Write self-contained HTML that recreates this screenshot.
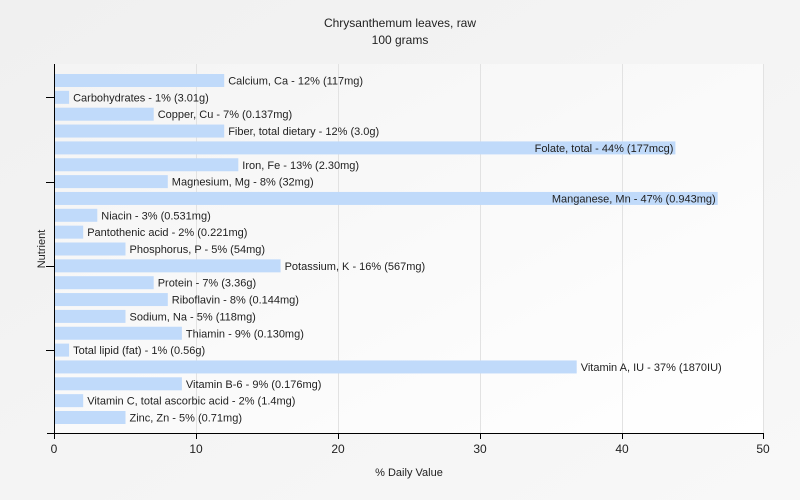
<!DOCTYPE html>
<html><head><meta charset="utf-8"><style>
body{margin:0;background:#f0f0f0;}
svg{display:block;font-family:"Liberation Sans",sans-serif;}
</style></head><body>
<svg width="800" height="500" xmlns="http://www.w3.org/2000/svg">
<defs><linearGradient id="bg" x1="0" y1="0" x2="1" y2="1"><stop offset="0" stop-color="#f0f0f0"/><stop offset="1" stop-color="#f8f8f8"/></linearGradient>
<linearGradient id="pb" x1="0" y1="0" x2="1" y2="1"><stop offset="0" stop-color="#f4f4f4"/><stop offset="1" stop-color="#ffffff"/></linearGradient></defs>
<rect width="800" height="500" fill="url(#bg)"/>
<rect x="54" y="64" width="710" height="369" fill="url(#pb)"/>
<g stroke="#e2e2e2" stroke-width="1">
<line x1="196.5" y1="64" x2="196.5" y2="433"/><line x1="338.5" y1="64" x2="338.5" y2="433"/><line x1="480.5" y1="64" x2="480.5" y2="433"/><line x1="622.5" y1="64" x2="622.5" y2="433"/><line x1="763.5" y1="64" x2="763.5" y2="433"/>
</g>
<text x="400" y="27" text-anchor="middle" font-size="12" fill="#222">Chrysanthemum leaves, raw</text>
<text x="400" y="44" text-anchor="middle" font-size="12" fill="#222">100 grams</text>
<g fill="#c0dafa">
<rect x="55" y="74" width="169.2" height="13"/>
<rect x="55" y="90.85" width="14.1" height="13"/>
<rect x="55" y="107.7" width="98.7" height="13"/>
<rect x="55" y="124.55" width="169.2" height="13"/>
<rect x="55" y="141.4" width="620.4" height="13"/>
<rect x="55" y="158.25" width="183.3" height="13"/>
<rect x="55" y="175.1" width="112.8" height="13"/>
<rect x="55" y="191.95" width="662.7" height="13"/>
<rect x="55" y="208.8" width="42.3" height="13"/>
<rect x="55" y="225.65" width="28.2" height="13"/>
<rect x="55" y="242.5" width="70.5" height="13"/>
<rect x="55" y="259.35" width="225.6" height="13"/>
<rect x="55" y="276.2" width="98.7" height="13"/>
<rect x="55" y="293.05" width="112.8" height="13"/>
<rect x="55" y="309.9" width="70.5" height="13"/>
<rect x="55" y="326.75" width="126.9" height="13"/>
<rect x="55" y="343.6" width="14.1" height="13"/>
<rect x="55" y="360.45" width="521.7" height="13"/>
<rect x="55" y="377.3" width="126.9" height="13"/>
<rect x="55" y="394.15" width="28.2" height="13"/>
<rect x="55" y="411" width="70.5" height="13"/>
</g>
<g font-size="11" fill="#222">
<text x="228.2" y="84.5">Calcium, Ca - 12% (117mg)</text>
<text x="73.1" y="101.35">Carbohydrates - 1% (3.01g)</text>
<text x="157.7" y="118.2">Copper, Cu - 7% (0.137mg)</text>
<text x="228.2" y="135.05">Fiber, total dietary - 12% (3.0g)</text>
<text x="673.4" y="151.9" text-anchor="end">Folate, total - 44% (177mcg)</text>
<text x="242.3" y="168.75">Iron, Fe - 13% (2.30mg)</text>
<text x="171.8" y="185.6">Magnesium, Mg - 8% (32mg)</text>
<text x="715.7" y="202.45" text-anchor="end">Manganese, Mn - 47% (0.943mg)</text>
<text x="101.3" y="219.3">Niacin - 3% (0.531mg)</text>
<text x="87.2" y="236.15">Pantothenic acid - 2% (0.221mg)</text>
<text x="129.5" y="253">Phosphorus, P - 5% (54mg)</text>
<text x="284.6" y="269.85">Potassium, K - 16% (567mg)</text>
<text x="157.7" y="286.7">Protein - 7% (3.36g)</text>
<text x="171.8" y="303.55">Riboflavin - 8% (0.144mg)</text>
<text x="129.5" y="320.4">Sodium, Na - 5% (118mg)</text>
<text x="185.9" y="337.25">Thiamin - 9% (0.130mg)</text>
<text x="73.1" y="354.1">Total lipid (fat) - 1% (0.56g)</text>
<text x="580.7" y="370.95">Vitamin A, IU - 37% (1870IU)</text>
<text x="185.9" y="387.8">Vitamin B-6 - 9% (0.176mg)</text>
<text x="87.2" y="404.65">Vitamin C, total ascorbic acid - 2% (1.4mg)</text>
<text x="129.5" y="421.5">Zinc, Zn - 5% (0.71mg)</text>
</g>
<g stroke="#000" stroke-width="1">
<line x1="54.5" y1="64" x2="54.5" y2="434"/><line x1="47" y1="433.5" x2="764" y2="433.5"/>
<line x1="46" y1="97.5" x2="54" y2="97.5"/><line x1="46" y1="182.5" x2="54" y2="182.5"/><line x1="46" y1="266.5" x2="54" y2="266.5"/><line x1="46" y1="350.5" x2="54" y2="350.5"/>
<line x1="54.5" y1="433" x2="54.5" y2="439"/><line x1="196.5" y1="433" x2="196.5" y2="439"/><line x1="338.5" y1="433" x2="338.5" y2="439"/><line x1="480.5" y1="433" x2="480.5" y2="439"/><line x1="622.5" y1="433" x2="622.5" y2="439"/><line x1="763.5" y1="433" x2="763.5" y2="439"/>
</g>
<g font-size="12" fill="#222" text-anchor="middle">
<text x="54" y="453">0</text><text x="196" y="453">10</text><text x="338" y="453">20</text><text x="480" y="453">30</text><text x="622" y="453">40</text><text x="763" y="453">50</text>
<text x="409" y="476" font-size="11">% Daily Value</text>
<text transform="translate(45,249) rotate(-90)" font-size="11">Nutrient</text>
</g>
</svg>
</body></html>
